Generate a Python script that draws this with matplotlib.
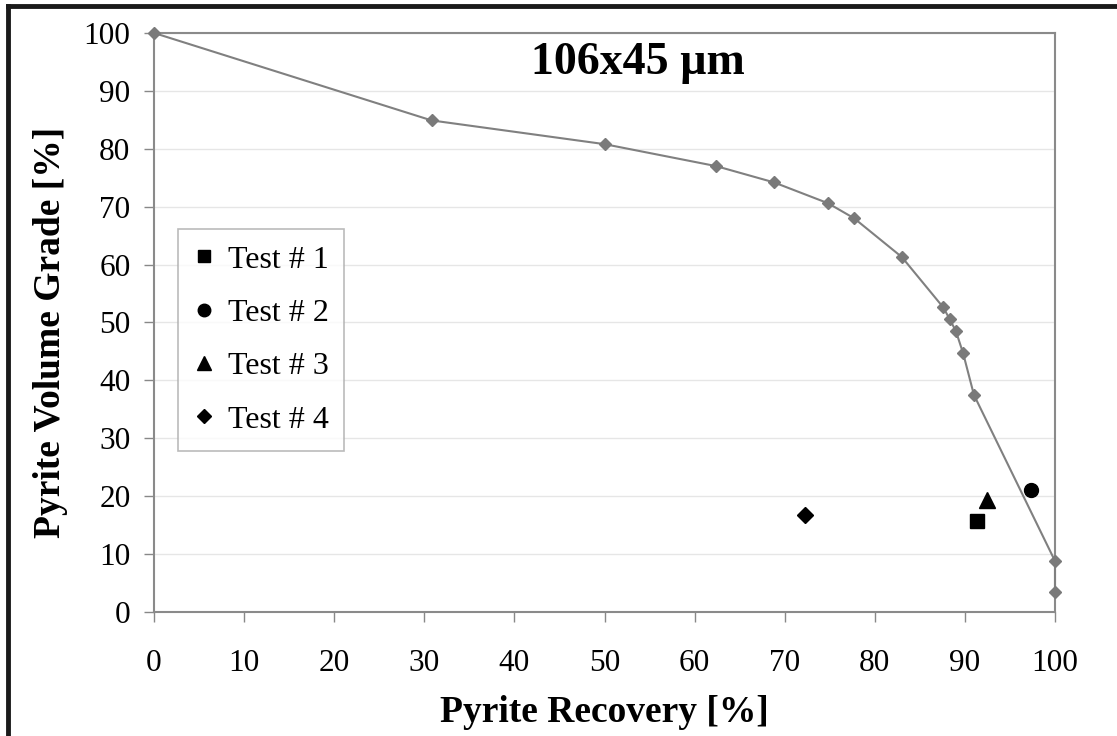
import matplotlib.pyplot as plt
from matplotlib.lines import Line2D

# curva de grado-recuperación (106x45 µm)
recovery = [0, 30.8, 50.0, 62.4, 68.8, 74.8, 77.7, 83.0, 87.6, 88.3, 89.0, 89.8, 91.0, 100, 100]
grade = [100, 84.9, 80.8, 77.0, 74.2, 70.6, 68.0, 61.3, 52.6, 50.6, 48.5, 44.7, 37.5, 8.8, 3.5]

# ensayos
test_names = ["Test # 1", "Test # 2", "Test # 3", "Test # 4"]
test_rec = [91.3, 97.3, 92.4, 72.2]
test_grade = [15.7, 21.0, 19.4, 16.8]
test_markers = ["s", "o", "^", "D"]
test_sizes = [10, 10, 11, 8]

xticks = list(range(0, 101, 10))
yticks = list(range(0, 101, 10))

plt.rcParams['font.family'] = ['Liberation Serif', 'DejaVu Serif']

fig = plt.figure(figsize=(11.17, 7.36), dpi=100)
ax = fig.add_axes([0.1379, 0.1685, 0.8066, 0.7867])

ax.plot(recovery, grade, color='#808080', lw=1.5, marker='D', ms=6,
        mec='#7a7a7a', mfc='#7a7a7a', zorder=3, clip_on=False)

handles = []
for name, x, y, m, s in zip(test_names, test_rec, test_grade, test_markers, test_sizes):
    ax.plot(x, y, linestyle='none', marker=m, ms=s, color='black', zorder=4)
    handles.append(Line2D([], [], linestyle='none', marker=m, color='black',
                          ms=s * 0.9, label=name))

ax.set_xlim(0, 100)
ax.set_ylim(0, 100)
ax.set_xticks(xticks)
ax.set_yticks(yticks)
ax.tick_params(axis='both', direction='out', length=7, width=1, color='#888888',
               labelsize=22.5, pad=10)
ax.tick_params(axis='x', pad=20)
ax.grid(axis='y', color='#e6e6e6', lw=1)
ax.set_axisbelow(True)
for sp in ax.spines.values():
    sp.set_color('#8a8a8a')
    sp.set_linewidth(1.5)

ax.set_xlabel('Pyrite Recovery [%]', fontsize=27, fontweight='bold', labelpad=12)
ax.set_ylabel('Pyrite Volume Grade [%]', fontsize=27, fontweight='bold')
ax.yaxis.set_label_coords(-0.095, 0.483)
ax.text(0.537, 0.948, '106x45 µm', transform=ax.transAxes, ha='center', va='center',
        fontsize=33, fontweight='bold')

leg = ax.legend(handles=handles, loc='upper left', bbox_to_anchor=(0.0266, 0.661),
                fontsize=23, frameon=True, fancybox=False, edgecolor='#aaaaaa',
                handlelength=0.6, handletextpad=0.45, labelspacing=0.75,
                borderpad=0.5, borderaxespad=0)
leg.get_frame().set_linewidth(1.2)

# marco negro superior e izquierdo
fig.add_artist(Line2D([0.0072, 1], [0.9918, 0.9918], color='#1a1a1a', lw=3.5,
                      transform=fig.transFigure))
fig.add_artist(Line2D([0.0072, 0.0072], [0, 0.9918], color='#1a1a1a', lw=3.5,
                      transform=fig.transFigure))

fig.savefig('out.png', dpi=100)
